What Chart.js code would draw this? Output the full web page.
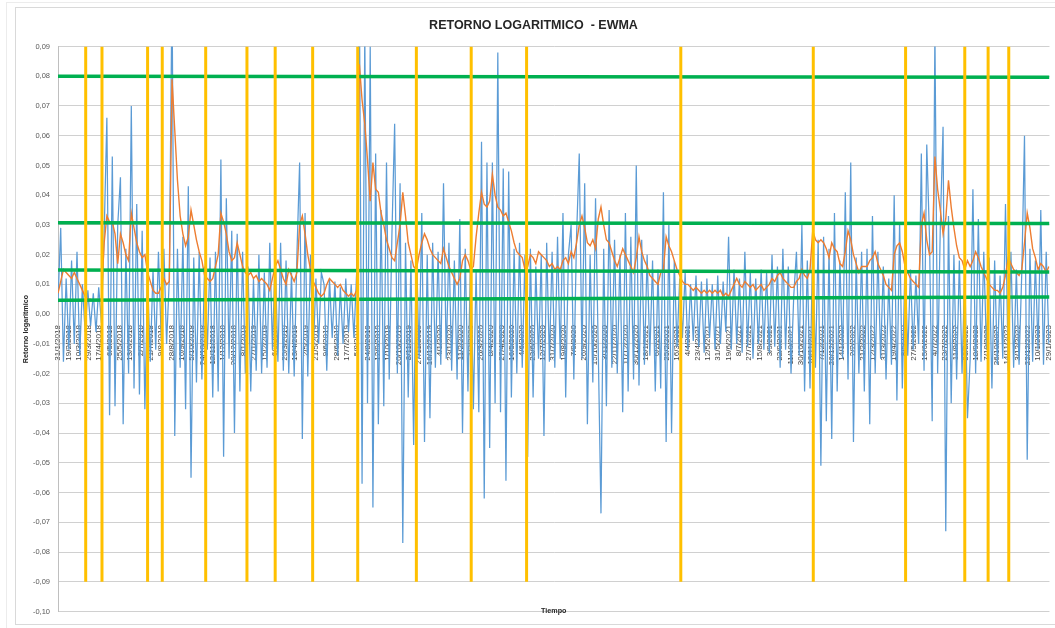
<!DOCTYPE html>
<html>
<head>
<meta charset="utf-8">
<script src="https://cdn.jsdelivr.net/npm/chart.js@4"></script>
<style>
  html, body { margin: 0; padding: 0; background: #fff; overflow: hidden; }
  #hoja  { position: absolute; left: 6px; top: 2px; width: 1100px; height: 700px; border: 1px solid #ececec; }
  #marco { position: absolute; left: 15px; top: 7px; width: 1045px; height: 616px; border: 1px solid #d9d9d9; background: #fff; }
  #grafico { display: block; }
</style>
</head>
<body>
<div id="hoja"></div>
<div id="marco"><canvas id="grafico" width="1045" height="616"></canvas></div>
<script>
// datos: un punto cada 5 dias desde 31/1/2018
var inicio = Date.UTC(2018, 0, 31);
var paso = 5;
var pasoEtiquetas = 19;     // etiquetas del eje X cada 19 dias
var ultimoDia = 1826;

var retorno = [
  0.004, 0.029, -0.016, 0.012, -0.012, 0.018, -0.010, 0.021, -0.014, 0.010,
  -0.006, 0.008, -0.004, 0.007, -0.006, 0.009, -0.003, 0.027, 0.066, -0.034,
  0.053, -0.031, 0.030, 0.046, -0.037, 0.022, -0.020, 0.070, -0.025, 0.037,
  -0.027, 0.028, -0.032, 0.012, -0.016, 0.015, -0.012, 0.021, -0.008, 0.022,
  -0.010, 0.012, 0.110, -0.041, 0.022, -0.018, 0.026, -0.032, 0.043, -0.055,
  0.019, -0.023, 0.021, -0.022, 0.016, -0.012, 0.019, -0.028, 0.021, -0.026,
  0.052, -0.048, 0.039, -0.015, 0.028, -0.040, 0.027, -0.026, 0.021, -0.020,
  0.016, -0.026, 0.012, -0.019, 0.020, -0.020, 0.014, -0.018, 0.024, -0.012,
  0.020, -0.016, 0.024, -0.019, 0.018, -0.020, 0.014, -0.021, 0.020, 0.051,
  -0.042, 0.034, -0.021, 0.020, -0.014, 0.012, -0.010, 0.014, 0.010, -0.019,
  0.012, -0.008, 0.011, -0.014, 0.009, -0.010, 0.012, -0.006, 0.010, -0.008,
  0.014, 0.110, -0.057, 0.095, -0.030, 0.090, -0.065, 0.054, -0.037, 0.035,
  -0.031, 0.051, -0.022, 0.027, 0.064, -0.020, 0.044, -0.077, 0.024, -0.028,
  0.018, -0.044, 0.024, -0.015, 0.034, -0.043, 0.020, -0.035, 0.024, -0.018,
  0.021, -0.017, 0.044, -0.015, 0.024, -0.019, 0.018, -0.022, 0.032, -0.040,
  0.022, -0.026, 0.021, -0.032, 0.015, -0.033, 0.058, -0.062, 0.051, -0.045,
  0.051, -0.030, 0.088, -0.033, 0.049, -0.056, 0.048, -0.028, 0.022, -0.020,
  0.024, -0.018, 0.020, -0.048, 0.022, -0.028, 0.016, -0.015, 0.020, -0.041,
  0.024, -0.016, 0.021, -0.018, 0.026, -0.015, 0.034, -0.028, 0.020, 0.030,
  -0.022, 0.026, 0.054, -0.015, 0.044, -0.037, 0.020, -0.023, 0.039, -0.012,
  -0.067, 0.022, -0.031, 0.035, -0.018, 0.025, -0.020, 0.020, -0.033, 0.034,
  -0.026, 0.026, -0.022, 0.050, -0.024, 0.025, -0.017, 0.020, -0.014, 0.018,
  -0.026, 0.015, -0.025, 0.041, -0.043, 0.030, -0.040, 0.018, -0.011, 0.012,
  -0.008, 0.014, -0.012, 0.010, -0.009, 0.013, -0.011, 0.011, -0.013, 0.012,
  -0.008, 0.010, -0.012, 0.013, -0.010, 0.011, -0.006, 0.026, -0.012, 0.015,
  -0.010, 0.012, -0.013, 0.021, -0.011, 0.014, -0.015, 0.012, -0.010, 0.015,
  -0.012, 0.014, -0.013, 0.020, -0.011, 0.016, -0.018, 0.022, -0.012, 0.016,
  -0.020, 0.006, 0.021, -0.014, 0.030, -0.026, 0.018, -0.025, 0.024, -0.018,
  0.025, -0.051, 0.026, -0.036, 0.022, -0.042, 0.034, -0.026, 0.018, -0.015,
  0.041, -0.022, 0.051, -0.043, 0.019, -0.020, 0.021, -0.026, 0.022, -0.037,
  0.033, -0.020, 0.021, -0.015, 0.016, -0.022, 0.012, -0.017, 0.040, -0.029,
  0.031, -0.025, 0.019, -0.014, 0.015, -0.012, 0.013, -0.010, 0.054, -0.019,
  0.057, 0.026, -0.036, 0.095, -0.020, 0.030, 0.063, -0.073, 0.033, -0.030,
  0.020, -0.022, 0.018, -0.020, 0.015, -0.035, -0.015, 0.042, -0.020, 0.032,
  -0.016, 0.021, -0.012, 0.019, -0.025, 0.018, -0.017, 0.013, -0.015, 0.037,
  -0.019, 0.021, -0.018, 0.015, -0.017, 0.014, 0.060, -0.049, 0.022, -0.016,
  0.018, -0.012, 0.035, -0.017, 0.021, -0.010
];

var ewma = [
  0.007, 0.011, 0.015, 0.014, 0.013, 0.012, 0.014, 0.012, 0.010, 0.008,
  0.006, 0.005, 0.005, 0.0045, 0.005, 0.0045, 0.005, 0.024, 0.033, 0.031,
  0.031, 0.027, 0.017, 0.027, 0.024, 0.020, 0.018, 0.034, 0.029, 0.024,
  0.021, 0.019, 0.020, 0.014, 0.011, 0.008, 0.007, 0.007, 0.009, 0.012,
  0.010, 0.011, 0.079, 0.062, 0.045, 0.033, 0.027, 0.023, 0.026, 0.035,
  0.030, 0.025, 0.021, 0.018, 0.013, 0.012, 0.011, 0.012, 0.016, 0.020,
  0.034, 0.031, 0.027, 0.021, 0.018, 0.019, 0.024, 0.020, 0.016, 0.014,
  0.013, 0.014, 0.012, 0.013, 0.011, 0.012, 0.011, 0.010, 0.008, 0.012,
  0.016, 0.018, 0.015, 0.012, 0.010, 0.015, 0.013, 0.011, 0.014, 0.030,
  0.033, 0.027, 0.020, 0.015, 0.011, 0.009, 0.007, 0.006, 0.007, 0.010,
  0.012, 0.011, 0.010, 0.009, 0.010, 0.008, 0.007, 0.006, 0.007, 0.006,
  0.008, 0.084, 0.072, 0.064, 0.052, 0.038, 0.051, 0.042, 0.041, 0.034,
  0.030, 0.025, 0.022, 0.019, 0.018, 0.024, 0.030, 0.041, 0.033, 0.024,
  0.020, 0.016, 0.015, 0.020, 0.024, 0.027, 0.025, 0.022, 0.020, 0.019,
  0.018, 0.017, 0.022, 0.019, 0.016, 0.014, 0.012, 0.010, 0.012, 0.018,
  0.020, 0.018, 0.015, 0.016, 0.026, 0.034, 0.041, 0.037, 0.036, 0.038,
  0.047, 0.040, 0.036, 0.035, 0.033, 0.034, 0.031, 0.028, 0.024, 0.021,
  0.020, 0.019, 0.015, 0.016, 0.020, 0.019, 0.017, 0.021, 0.020, 0.019,
  0.018, 0.016, 0.017, 0.015, 0.016, 0.015, 0.018, 0.019, 0.017, 0.021,
  0.019, 0.024, 0.030, 0.033, 0.029, 0.024, 0.023, 0.025, 0.022, 0.032,
  0.036, 0.030, 0.025, 0.024, 0.021, 0.018, 0.016, 0.019, 0.022, 0.020,
  0.018, 0.016, 0.014, 0.019, 0.026, 0.021, 0.018, 0.016, 0.013, 0.012,
  0.011, 0.010, 0.014, 0.015, 0.026, 0.023, 0.021, 0.018, 0.015, 0.013,
  0.011, 0.010, 0.010, 0.009, 0.008, 0.009, 0.008, 0.007, 0.008, 0.007,
  0.008, 0.007, 0.008, 0.007, 0.008, 0.006, 0.007, 0.006, 0.008, 0.010,
  0.012, 0.010, 0.009, 0.011, 0.010, 0.009, 0.010, 0.008, 0.009, 0.010,
  0.008, 0.009, 0.010, 0.012, 0.011, 0.013, 0.014, 0.012, 0.011, 0.010,
  0.009, 0.009, 0.011, 0.012, 0.015, 0.013, 0.012, 0.015, 0.028, 0.025,
  0.024, 0.025, 0.024, 0.022, 0.019, 0.024, 0.022, 0.021, 0.017, 0.016,
  0.021, 0.028, 0.025, 0.020, 0.017, 0.014, 0.016, 0.016, 0.016, 0.018,
  0.019, 0.021, 0.017, 0.015, 0.013, 0.010, 0.009, 0.008, 0.020, 0.023,
  0.024, 0.021, 0.016, 0.014, 0.012, 0.011, 0.010, 0.009, 0.030, 0.034,
  0.025, 0.020, 0.021, 0.053, 0.042, 0.035, 0.027, 0.032, 0.045, 0.036,
  0.029, 0.023, 0.019, 0.018, 0.015, 0.018, 0.016, 0.018, 0.021, 0.019,
  0.016, 0.014, 0.012, 0.010, 0.009, 0.008, 0.008, 0.007, 0.009, 0.013,
  0.019, 0.017, 0.015, 0.014, 0.013, 0.015, 0.024, 0.034, 0.029, 0.022,
  0.019, 0.015, 0.017, 0.016, 0.014, 0.016
];

// lineas verdes (valor al principio y al final)
var verdeInicio = [0.0800, 0.0307, 0.0148, 0.0047];
var verdeFin    = [0.0797, 0.0305, 0.0142, 0.0058];

// lineas amarillas verticales
var eventos = ['2018-03-23', '2018-04-22', '2018-07-15', '2018-08-11', '2018-10-30', '2019-01-14',
  '2019-03-07', '2019-05-15', '2019-08-06', '2019-11-22', '2020-03-02', '2020-06-12',
  '2021-03-23', '2021-11-22', '2022-05-11', '2022-08-28', '2022-10-10', '2022-11-17'];
var amarilloMin = -0.09, amarilloMax = 0.09;

var diasEtiquetas = [];
for (var d = 0; d <= 1824; d += pasoEtiquetas) diasEtiquetas.push(d);

function diaDe(f) { return (Date.parse(f + 'T00:00:00Z') - inicio) / 864e5; }
function fecha(dia) {
  var t = new Date(inicio + dia * 864e5);
  return t.getUTCDate() + '/' + (t.getUTCMonth() + 1) + '/' + t.getUTCFullYear();
}

var datasets = [];
datasets.push({ label: 'Retorno', data: retorno.map(function (v, i) { return {x: i * paso, y: v}; }),
  borderColor: '#5b9bd5', borderWidth: 1.25, pointRadius: 0, order: 4 });
datasets.push({ label: 'EWMA', data: ewma.map(function (v, i) { return {x: i * paso, y: v}; }),
  borderColor: '#ed7d31', borderWidth: 1.4, pointRadius: 0, order: 3 });
verdeInicio.forEach(function (v, k) {
  datasets.push({ data: [{x: 0, y: v}, {x: ultimoDia, y: verdeFin[k]}],
    borderColor: '#00b050', borderWidth: 3.5, pointRadius: 0, order: 2 });
});
eventos.forEach(function (f) {
  var x = diaDe(f);
  datasets.push({ data: [{x: x, y: amarilloMin}, {x: x, y: amarilloMax}],
    borderColor: '#ffc000', borderWidth: 3, pointRadius: 0, order: 1 });
});

var tituloX = {
  id: 'tituloX',
  afterDraw: function (chart) {
    var ctx = chart.ctx, a = chart.chartArea;
    ctx.save();
    ctx.font = 'bold 7.2px "Liberation Sans", Arial, sans-serif';
    ctx.fillStyle = '#262626';
    ctx.textAlign = 'center';
    ctx.textBaseline = 'middle';
    ctx.fillText('Tiempo', (a.left + a.right) / 2, a.bottom);
    ctx.restore();
  }
};

new Chart(document.getElementById('grafico'), {
  type: 'line',
  data: { datasets: datasets },
  plugins: [tituloX],
  options: {
    responsive: false,
    animation: false,
    normalized: true,
    layout: { padding: { top: 0, left: 0, right: 10, bottom: 5 } },
    plugins: {
      legend: { display: false },
      tooltip: { enabled: false },
      title: { display: true, text: 'RETORNO LOGARITMICO  - EWMA', color: '#262626',
        font: { family: '"Liberation Sans", Arial, sans-serif', size: 12.5, weight: 'bold' },
        padding: { top: 10, bottom: 13.5 } }
    },
    scales: {
      x: {
        type: 'linear', min: 0, max: ultimoDia,
        position: { y: 0 },
        grid: { display: false },
        border: { display: false },
        afterBuildTicks: function (s) { s.ticks = diasEtiquetas.map(function (v) { return {value: v}; }); },
        ticks: { autoSkip: false, minRotation: 90, maxRotation: 90, padding: 3, color: '#404040',
          font: { family: '"Liberation Sans", Arial, sans-serif', size: 8 },
          callback: function (v) { return fecha(v); } }
      },
      y: {
        min: -0.10, max: 0.09,
        afterFit: function (s) { s.width = 42; },
        grid: { color: '#d0d0d0', drawTicks: false },
        border: { color: '#bfbfbf' },
        title: { display: true, text: 'Retorno logaritmico', color: '#262626',
          font: { family: '"Liberation Sans", Arial, sans-serif', size: 7.2, weight: 'bold' },
          padding: { top: 6.2, bottom: 0 } },
        ticks: { stepSize: 0.01, padding: 8, color: '#595959',
          font: { family: '"Liberation Sans", Arial, sans-serif', size: 7.5 },
          callback: function (v) {
            if (Math.abs(v) < 1e-9) return '0,00';
            return v.toFixed(2).replace('.', ',');
          } }
      }
    }
  }
});
</script>
</body>
</html>
